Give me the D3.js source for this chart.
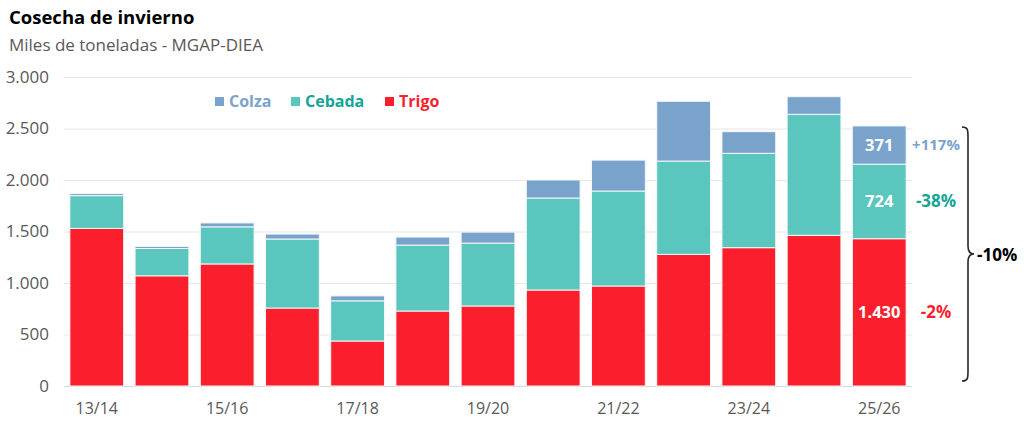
<!DOCTYPE html>
<html><head><meta charset="utf-8">
<script src="https://cdn.jsdelivr.net/npm/d3@7"></script>
<style>body{margin:0;background:#fff;} svg{display:block;font-family:"Open Sans",sans-serif;}</style>
</head><body><svg id="c" width="1024" height="427"></svg>
<script>
const seasons = ["13/14","14/15","15/16","16/17","17/18","18/19","19/20","20/21","21/22","22/23","23/24","24/25","25/26"];
const trigo  = [1530,1070,1185,757,437,728,777,932,971,1278,1343,1463,1430];
const cebada = [318,265,360,670,390,640,610,893,922,906,916,1175,724];
const colza  = [20,20,38,48,48,78,107,175,300,580,210,171,371];
const yTicks = [0,500,1000,1500,2000,2500,3000];
const xTickLabels = ["13/14","15/16","17/18","19/20","21/22","23/24","25/26"];
const seriesNames = ["Trigo","Cebada","Colza"];
const seriesColors = {Trigo:"#fb1f2e", Cebada:"#5bc6bd", Colza:"#7aa3cb"};
const legendColors = {Trigo:"#fb1f2e", Cebada:"#14a596", Colza:"#7aa3cb"};
const lastLabels = {Trigo:"1.430", Cebada:"724", Colza:"371"};
const pctLabels = {Trigo:"-2%", Cebada:"-38%", Colza:"+117%"};
const totalPct = "-10%";

(function(){
const svg = d3.select("#c");
const x = d3.scaleBand().domain(seasons).range([64,912]).paddingInner(0.175).paddingOuter(0.09);
const y = d3.scaleLinear().domain([0,3000]).range([386,77]);

// title
svg.append("text").attr("x",9).attr("y",24).attr("font-size",18.5).attr("font-weight","bold").attr("fill","#000").text("Cosecha de invierno");
svg.append("text").attr("x",9).attr("y",51).attr("font-size",17).attr("fill","#595959").text("Miles de toneladas - MGAP-DIEA");

// grid
svg.append("g").selectAll("line").data(yTicks).join("line")
  .attr("x1",64).attr("x2",912).attr("y1",d=>y(d)+0.5).attr("y2",d=>y(d)+0.5)
  .attr("stroke",d=>d===0?"#d9d9d9":"#e6e6e6").attr("stroke-width",1);

const yAxis = svg.append("g").attr("transform","translate(49,0)")
  .call(d3.axisLeft(y).tickValues(yTicks).tickSize(0).tickPadding(0).tickFormat(d=>d3.format(",")(d).replace(/,/g,".")));
yAxis.select(".domain").remove();
yAxis.selectAll("text").attr("font-size",17).attr("fill","#595959").attr("font-family","Open Sans");

const xAxis = svg.append("g").attr("transform","translate(0,386)")
  .call(d3.axisBottom(x).tickValues(xTickLabels).tickSize(0).tickPadding(17));
xAxis.select(".domain").remove();
xAxis.selectAll("text").attr("font-size",16).attr("fill","#595959").attr("font-family","Open Sans");

// stack
const rows = seasons.map((s,i)=>({season:s, Trigo:trigo[i], Cebada:cebada[i], Colza:colza[i]}));
const stack = d3.stack().keys(seriesNames)(rows);
svg.append("g").selectAll("g").data(stack).join("g")
  .attr("fill",d=>seriesColors[d.key])
  .selectAll("rect").data(d=>d).join("rect")
  .attr("x",d=>x(d.data.season)).attr("width",x.bandwidth())
  .attr("y",d=>y(d[1])).attr("height",d=>y(d[0])-y(d[1]))
  .attr("stroke","#f2f7f7").attr("stroke-width",1);

// last bar labels
const last = seasons.length-1;
const lastX = x(seasons[last]) + x.bandwidth()/2;
stack.forEach(layer=>{
  const d = layer[last];
  const cy = (y(d[0])+y(d[1]))/2;
  svg.append("text").attr("x",lastX).attr("y",cy).attr("dy","0.35em").attr("text-anchor","middle")
    .attr("font-size",16.5).attr("font-weight","bold").attr("fill","#fff").text(lastLabels[layer.key]);
  svg.append("text").attr("x",936).attr("y",cy).attr("dy","0.35em").attr("text-anchor","middle")
    .attr("font-size",layer.key==="Colza"?15:17).attr("font-weight","bold").attr("fill",legendColors[layer.key]).text(pctLabels[layer.key]);
});

// brace
const bTop = y(trigo[last]+cebada[last]+colza[last])+1, bBot = 381, mid=(bTop+bBot)/2;
const bx = 962, bw = 6;
const brace = `M${bx},${bTop} C${bx+bw},${bTop} ${bx+bw},${bTop+3} ${bx+bw},${bTop+10} L${bx+bw},${mid-8} C${bx+bw},${mid-2} ${bx+bw+2},${mid} ${bx+bw*2},${mid} C${bx+bw+2},${mid} ${bx+bw},${mid+2} ${bx+bw},${mid+8} L${bx+bw},${bBot-10} C${bx+bw},${bBot-3} ${bx+bw},${bBot} ${bx},${bBot}`;
svg.append("path").attr("d",brace).attr("fill","none").attr("stroke","#262626").attr("stroke-width",1.6);
svg.append("text").attr("x",977).attr("y",mid+1).attr("dy","0.35em").attr("font-size",17).attr("font-weight","bold").attr("fill","#000").text(totalPct);

// legend
const legendItems = [{k:"Colza",x:215},{k:"Cebada",x:291},{k:"Trigo",x:385}];
const lg = svg.append("g");
legendItems.forEach(it=>{
  lg.append("rect").attr("x",it.x).attr("y",97).attr("width",9).attr("height",9).attr("fill",seriesColors[it.k]);
  lg.append("text").attr("x",it.x+14).attr("y",101).attr("dy","0.35em").attr("font-size",16).attr("font-weight","bold").attr("fill",legendColors[it.k]).text(it.k);
});
})();
</script></body></html>
